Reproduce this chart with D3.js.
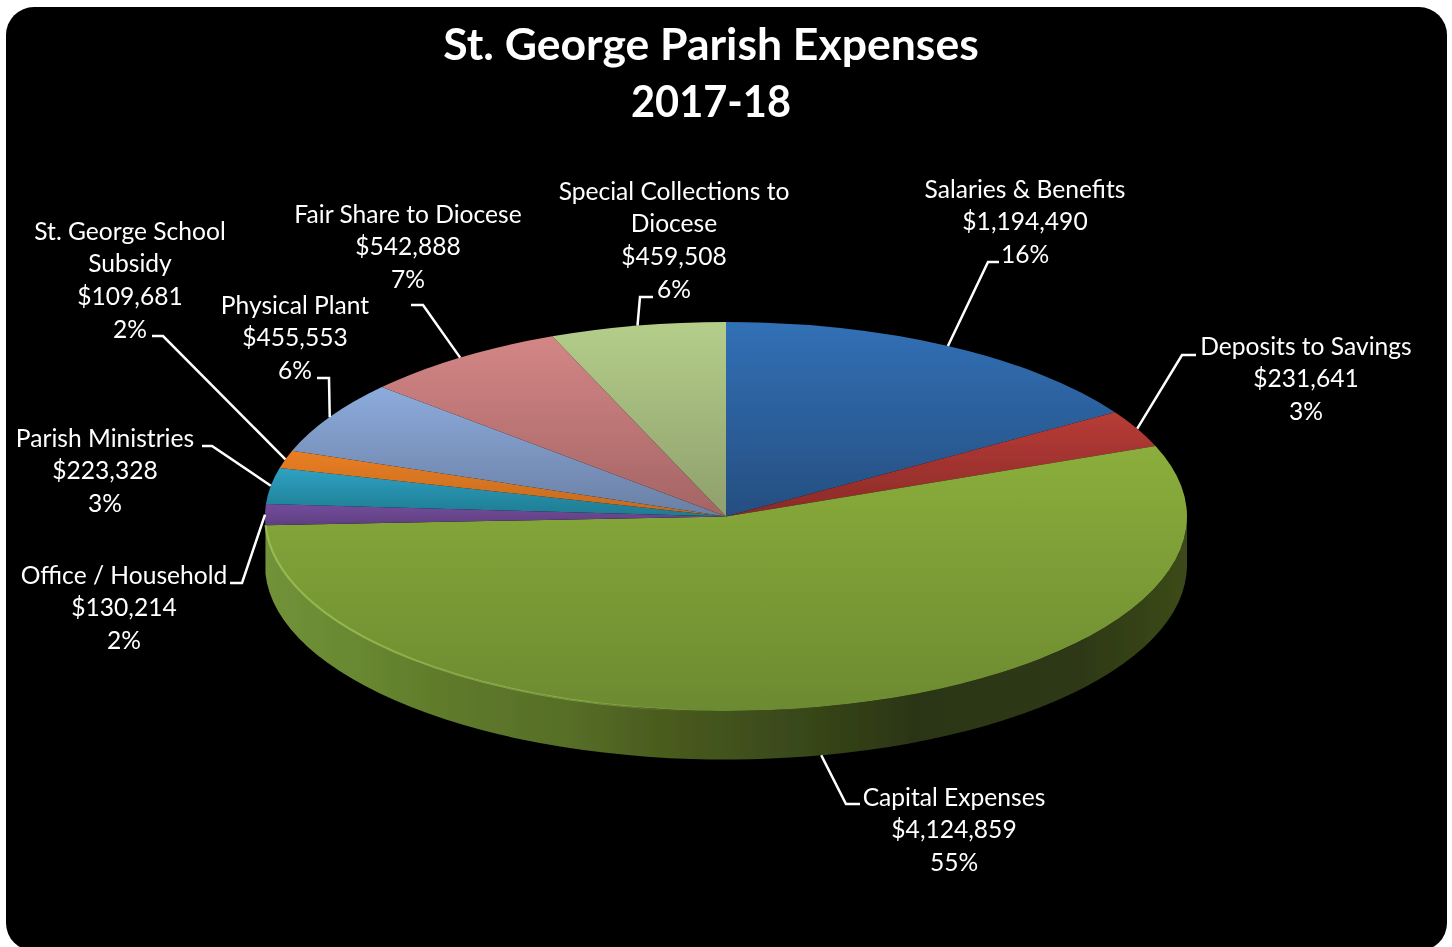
<!DOCTYPE html>
<html>
<head>
<meta charset="utf-8">
<script src="https://cdn.jsdelivr.net/npm/d3@7"></script>
<style>
    html, body { margin: 0; padding: 0; background: #fff; overflow: hidden; }
    text { font-family: Lato, "Open Sans", sans-serif; fill: #fff; }
</style>
</head>
<body>
<div id="chart"></div>
<script>
// chart values
const titleLines = ["St. George Parish Expenses", "2017-18"];
const categories = ["Salaries & Benefits", "Deposits to Savings", "Capital Expenses", "Office / Household",
    "Parish Ministries", "St. George School Subsidy", "Physical Plant", "Fair Share to Diocese",
    "Special Collections to Diocese"];
const amounts = [1194490, 231641, 4124859, 130214, 223328, 109681, 455553, 542888, 459508];
const percentLabels = ["16%", "3%", "55%", "2%", "3%", "2%", "6%", "7%", "6%"];

// wrapped name lines for the labels that break in two
const nameBreaks = {5: ["St. George School", "Subsidy"], 8: ["Special Collections to", "Diocese"]};

// top face colours per slice: [top, bottom]
const faceColors = [
    ["#3170b6", "#264e80"], ["#b83c36", "#8a2a28"], ["#8bae3c", "#6c8a30"], ["#744c9c", "#5e3f80"],
    ["#2ea2c4", "#1f7a90"], ["#ea7e22", "#c06a20"], ["#8cabdc", "#6a7fa4"], ["#d48686", "#a46464"],
    ["#b4ce8a", "#8f9f6c"]
];

// wall shading along x, as a fraction of the pie width
const wallStops = [[0, "#72923a"], [0.1, "#688830"], [0.2, "#5f7a2b"], [0.33, "#566e27"], [0.43, "#4a5c1e"],
    [0.58, "#38481a"], [0.7, "#2c3612"], [0.88, "#2d3813"], [1, "#3c4a1a"]];

// label placement: centre x, y of first line, leader elbow and leader end
const labelLayout = [
    {x: 1025, y: 197.7, elbow: [988, 262], end: [999, 262]},
    {x: 1306, y: 354.7, elbow: [1182, 355], end: [1196, 355]},
    {x: 954, y: 805.7, elbow: [846, 804], end: [860, 804]},
    {x: 124, y: 583.7, elbow: [242, 583], end: [230, 583]},
    {x: 105, y: 446.7, elbow: [212, 446], end: [202, 446]},
    {x: 130, y: 239.7, elbow: [163, 336], end: [152, 336]},
    {x: 295, y: 313.7, elbow: [329, 378], end: [317, 378]},
    {x: 408, y: 222.7, elbow: [423, 305], end: [411, 305]},
    {x: 674, y: 199.7, elbow: [640, 297], end: [653, 297]}
];

const width = 1452, height = 947;
const cx = 726, cy = 516.5, rx = 461, ry = 194.5, depth = 48.5;
const lineHeight = 32.6;

const root = d3.select("#chart").append("svg")
    .attr("width", width)
    .attr("height", height);

const defs = root.append("defs");

// the source is a slightly soft screenshot
defs.append("filter")
    .attr("id", "soft")
    .attr("filterUnits", "userSpaceOnUse")
    .attr("x", 0).attr("y", 0).attr("width", width).attr("height", height)
    .append("feGaussianBlur")
    .attr("stdDeviation", 0.5);

const svg = root.append("g").attr("filter", "url(#soft)");

svg.append("rect")
    .attr("x", 6).attr("y", 7)
    .attr("width", 1441).attr("height", 944)
    .attr("rx", 28)
    .attr("fill", "#000");

// title
svg.selectAll(".title")
    .data(titleLines)
    .join("text")
    .attr("class", "title")
    .attr("x", 711)
    .attr("y", (d, i) => 60 + i * 57)
    .attr("text-anchor", "middle")
    .attr("font-size", 44.5)
    .attr("font-weight", 700)
    .attr("textLength", (d, i) => i === 1 ? 160 : null)
    .attr("lengthAdjust", "spacingAndGlyphs")
    .text(d => d);

const pie = d3.pie().sort(null).value(d => d);
const arcs = pie(amounts);

// horizontal and vertical scales that flatten the unit circle to the tilted ellipse
const sx = d3.scaleLinear().domain([-1, 1]).range([cx - rx, cx + rx]);
const sy = d3.scaleLinear().domain([-1, 1]).range([cy - ry, cy + ry]);
const rimPoint = (a, dy = 0) => [sx(Math.sin(a)), sy(-Math.cos(a)) + dy];

// outer wall of the capital slice, the only one that faces the viewer
const capital = arcs[2];
const wallStart = Math.PI / 2, wallEnd = capital.endAngle;
const p0 = rimPoint(wallStart), p1 = rimPoint(wallEnd), p2 = rimPoint(wallEnd, depth), p3 = rimPoint(wallStart, depth);
const wallD = `M${p0} A${rx},${ry} 0 0 1 ${p1} L${p2} A${rx},${ry} 0 0 0 ${p3} Z`;

const wallGrad = defs.append("linearGradient")
    .attr("id", "wallGrad")
    .attr("gradientUnits", "userSpaceOnUse")
    .attr("x1", cx - rx).attr("x2", cx + rx).attr("y1", 0).attr("y2", 0);
wallStops.forEach(s => wallGrad.append("stop").attr("offset", s[0]).attr("stop-color", s[1]));

svg.append("path")
    .attr("d", wallD)
    .attr("fill", "url(#wallGrad)");

// top face slices, each shaded top to bottom over its own box
const arc = d3.arc().innerRadius(0).outerRadius(rx);

faceColors.forEach((c, i) => {
    const g = defs.append("linearGradient")
        .attr("id", "face" + i)
        .attr("x1", 0).attr("x2", 0)
        .attr("y1", 0).attr("y2", 1);
    g.append("stop").attr("offset", 0).attr("stop-color", c[0]);
    g.append("stop").attr("offset", 1).attr("stop-color", c[1]);
});

const pieGroup = svg.append("g")
    .attr("transform", `translate(${cx},${cy}) scale(1,${ry / rx})`);

pieGroup.selectAll("path")
    .data(arcs)
    .join("path")
    .attr("d", arc)
    .attr("fill", (d, i) => `url(#face${i})`);

// lighter bevel along the front rim of the capital slice
const rimGrad = defs.append("linearGradient")
    .attr("id", "rimGrad")
    .attr("gradientUnits", "userSpaceOnUse")
    .attr("x1", cx - rx).attr("x2", cx).attr("y1", 0).attr("y2", 0);
rimGrad.append("stop").attr("offset", 0).attr("stop-color", "#a6c85a").attr("stop-opacity", 0.8);
rimGrad.append("stop").attr("offset", 0.7).attr("stop-color", "#a6c85a").attr("stop-opacity", 0.5);
rimGrad.append("stop").attr("offset", 0.95).attr("stop-color", "#a6c85a").attr("stop-opacity", 0);

svg.append("path")
    .attr("d", `M${p0} A${rx},${ry} 0 0 1 ${p1}`)
    .attr("fill", "none")
    .attr("stroke", "url(#rimGrad)")
    .attr("stroke-width", 2);

// leader lines start on the rim at each slice's middle angle
svg.selectAll(".leader")
    .data(arcs)
    .join("polyline")
    .attr("class", "leader")
    .attr("fill", "none")
    .attr("stroke", "#fff")
    .attr("stroke-width", 2.5)
    .attr("points", (d, i) => {
        const mid = (d.startAngle + d.endAngle) / 2;
        // the capital leader leaves from the bottom of the wall
        const start = rimPoint(mid, i === 2 ? depth : 0);
        return [start, labelLayout[i].elbow, labelLayout[i].end].join(" ");
    });

// data labels
const fmt = d3.format("$,");
const labels = svg.selectAll(".label")
    .data(categories)
    .join("text")
    .attr("class", "label")
    .attr("text-anchor", "middle")
    .attr("font-size", 24.6);

labels.each(function(name, i) {
    const lines = (nameBreaks[i] || [name]).concat([fmt(amounts[i]), percentLabels[i]]);
    d3.select(this).selectAll("tspan")
        .data(lines)
        .join("tspan")
        .attr("x", labelLayout[i].x)
        .attr("y", (d, j) => labelLayout[i].y + j * lineHeight)
        .text(d => d);
});
</script>
</body>
</html>
